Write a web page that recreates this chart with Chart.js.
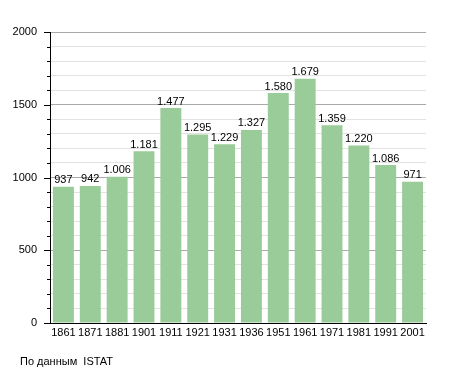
<!DOCTYPE html>
<html>
<head>
<meta charset="utf-8">
<script src="https://cdn.jsdelivr.net/npm/chart.js@4"></script>
<style>
  body { margin: 0; background: #fff; }
  #wrap { position: relative; width: 455px; height: 373px; }
  #source {
    position: absolute; left: 20px; top: 355px;
    font: 11px "Liberation Sans", Arial, sans-serif; color: #000;
  }
</style>
</head>
<body>
<div id="wrap">
  <canvas id="myChart" width="455" height="373"></canvas>
  <div id="source">По данным&nbsp; ISTAT</div>
</div>
<script>
// census years and population
const years = ['1861', '1871', '1881', '1901', '1911', '1921', '1931', '1936', '1951', '1961', '1971', '1981', '1991', '2001'];
const population = [937, 942, 1006, 1181, 1477, 1295, 1229, 1327, 1580, 1679, 1359, 1220, 1086, 971];

const fontFamily = '"Liberation Sans", Arial, sans-serif';

// italian style thousands: 1.006
function formatNum(n) {
    return String(n).replace(/\B(?=(\d{3})+(?!\d))/g, '.');
}

// value labels above bars
const barLabels = {
    id: 'barLabels',
    afterDatasetsDraw(chart) {
        const ctx = chart.ctx;
        const meta = chart.getDatasetMeta(0);
        ctx.save();
        ctx.font = '11px ' + fontFamily;
        ctx.fillStyle = '#000';
        ctx.textAlign = 'center';
        ctx.textBaseline = 'bottom';
        meta.data.forEach((bar, i) => {
            ctx.fillText(formatNum(population[i]), bar.x, bar.y - 1);
        });
        ctx.restore();
    }
};

// tick marks: long at 500s, short at 100s
const yTickMarks = {
    id: 'yTickMarks',
    afterDraw(chart) {
        const ctx = chart.ctx;
        const y = chart.scales.y;
        ctx.save();
        ctx.strokeStyle = '#000';
        ctx.lineWidth = 1;
        y.ticks.forEach(t => {
            const py = Math.round(y.getPixelForValue(t.value)) + 0.5;
            const len = t.value % 500 === 0 ? 6 : 3;
            ctx.beginPath();
            ctx.moveTo(y.right - len, py);
            ctx.lineTo(y.right, py);
            ctx.stroke();
        });
        ctx.restore();
    }
};

const ctx = document.getElementById('myChart').getContext('2d');
const myChart = new Chart(ctx, {
    type: 'bar',
    data: {
        labels: years,
        datasets: [{
            data: population,
            backgroundColor: '#99cc99',
            borderWidth: 0,
            categoryPercentage: 1,
            barPercentage: 0.78
        }]
    },
    options: {
        responsive: false,
        animation: false,
        layout: { padding: { left: 0, right: 29, top: 32, bottom: 30 } },
        plugins: {
            legend: { display: false },
            tooltip: { enabled: false }
        },
        scales: {
            x: {
                grid: { display: false, drawTicks: false },
                border: { display: true, color: '#000', width: 1 },
                ticks: {
                    color: '#000',
                    padding: 3,
                    maxRotation: 0,
                    autoSkip: false,
                    font: { family: fontFamily, size: 11 }
                },
                afterFit(scale) { scale.height = 20; }
            },
            y: {
                min: 0,
                max: 2000,
                grid: {
                    drawTicks: false,
                    color: c => (c.tick && c.tick.value % 500 === 0) ? '#aaaaaa' : '#e2e2e2'
                },
                border: { display: true, color: '#000', width: 1 },
                ticks: {
                    stepSize: 100,
                    autoSkip: false,
                    color: '#000',
                    padding: 13,
                    font: { family: fontFamily, size: 11 },
                    callback: v => v % 500 === 0 ? v : ''
                },
                afterFit(scale) { scale.width = 50; }
            }
        }
    },
    plugins: [barLabels, yTickMarks]
});
</script>
</body>
</html>
